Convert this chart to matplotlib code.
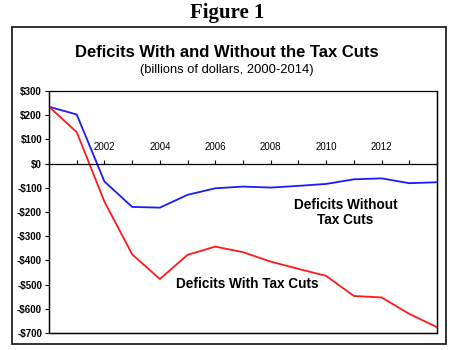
import matplotlib
matplotlib.use('Agg')
import matplotlib.pyplot as plt
from matplotlib.patches import Rectangle

# data (billions of dollars)
years = list(range(2000, 2015))
without_cuts = [235, 203, -74, -179, -182, -129, -102, -95, -99, -92, -84, -65, -61, -81, -77]
with_cuts = [235, 130, -157, -375, -477, -377, -343, -366, -405, -435, -464, -547, -553, -621, -676]
y_ticks = [300, 200, 100, 0, -100, -200, -300, -400, -500, -600, -700]
x_labeled = [2002, 2004, 2006, 2008, 2010, 2012]

plt.rcParams['font.family'] = ['Liberation Sans', 'DejaVu Sans']

fig = plt.figure(figsize=(4.5, 3.5), dpi=100)
fig.patch.set_facecolor('white')

# outer frame
fig.patches.append(Rectangle((12 / 450, 1 - 344 / 350), 434 / 450, 317 / 350,
                             transform=fig.transFigure, fill=False,
                             edgecolor='#222222', linewidth=1.3))

fig.text(0.505, 0.962, 'Figure 1', ha='center', va='center', fontsize=15,
         fontweight='bold', family='Liberation Serif')
fig.text(0.505, 0.850, 'Deficits With and Without the Tax Cuts', ha='center',
         va='center', fontsize=12, fontweight='bold')
fig.text(0.505, 0.800, '(billions of dollars, 2000-2014)', ha='center',
         va='center', fontsize=9.3)

ax = fig.add_axes([49 / 450, 17 / 350, 388 / 450, 242 / 350])
ax.plot(years, without_cuts, color='#1a1aff', linewidth=1.3)
ax.plot(years, with_cuts, color='#ff1a1a', linewidth=1.3)

ax.set_xlim(2000, 2014)
ax.set_ylim(-700, 300)

# zero line carries the year ticks
ax.spines['top'].set_position(('data', 0))
ax.spines['top'].set_linewidth(0.9)
ax.xaxis.set_ticks_position('top')
ax.set_xticks(years)
ax.set_xticklabels([str(y) if y in x_labeled else '' for y in years])
ax.tick_params(axis='x', direction='out', length=3, pad=5, labelsize=7, width=0.8)

ax.set_yticks(y_ticks)
ax.set_yticklabels([('-$%d' % -v) if v < 0 else ('$%d' % v) for v in y_ticks],
                   fontweight='bold')
ax.tick_params(axis='y', direction='out', length=3, pad=2, labelsize=7, width=0.8)

for side in ['left', 'right', 'bottom']:
    ax.spines[side].set_linewidth(0.9)
ax.add_patch(Rectangle((0, 0), 1, 1, transform=ax.transAxes, fill=False,
                       edgecolor='black', linewidth=0.9, clip_on=False))

ax.text(2010.7, -202, 'Deficits Without\nTax Cuts', ha='center', va='center',
        fontsize=9.8, fontweight='bold', linespacing=1.15)
ax.text(2007.15, -497, 'Deficits With Tax Cuts', ha='center', va='center',
        fontsize=9.8, fontweight='bold')

fig.savefig('out.png', dpi=100)
